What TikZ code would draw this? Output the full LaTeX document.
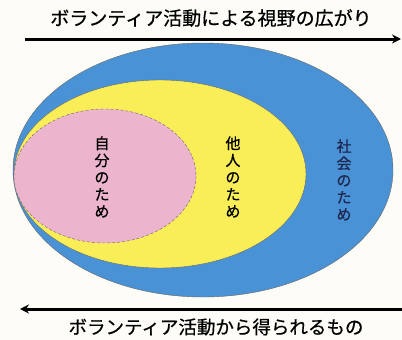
\documentclass[tikz,border=0pt]{standalone}
\usepackage{fontspec}
\newfontfamily\jpfont[FakeBold=0.6]{Noto Sans CJK JP}
\usetikzlibrary{arrows.meta}
\definecolor{bgc}{RGB}{253,252,246}
\definecolor{bluec}{RGB}{74,146,214}
\definecolor{yellowc}{RGB}{250,238,88}
\definecolor{pinkc}{RGB}{236,180,205}
\definecolor{navyc}{RGB}{30,40,80}
\tikzset{
  bigarrow/.style={line width=3pt, -{Stealth[length=9pt,width=9pt]}},
  vtext/.style={font=\jpfont\fontsize{15}{17}\selectfont, align=center, inner sep=0pt},
  htext/.style={font=\jpfont\fontsize{19}{21}\selectfont, inner sep=0pt},
}
\begin{document}
\begin{tikzpicture}[x=1pt,y=-1pt]
\fill[bgc] (0,0) rectangle (402,340);
\useasboundingbox (0,0) rectangle (402,340);
\fill[bluec] (203,170) ellipse [x radius=190, y radius=127];
\draw[black!60, line width=0.4pt] (203,170) ellipse [x radius=190, y radius=127];
\fill[yellowc] (160,174) ellipse [x radius=146, y radius=94];
\draw[black!60, line width=0.4pt] (160,174) ellipse [x radius=146, y radius=94];
\fill[pinkc] (105,176) ellipse [x radius=91, y radius=67];
\draw[black!60, line width=0.4pt, densely dashed] (105,176) ellipse [x radius=91, y radius=67];
\node[vtext] (self) at (102,177) {自\\分\\の\\た\\め};
\node[vtext] (others) at (233,177) {他\\人\\の\\た\\め};
\node[vtext, text=navyc] (society) at (344,180) {社\\会\\の\\た\\め};
\node[htext] (toptext) at (211,18) {ボランティア活動による視野の広がり};
\node[font=\jpfont\fontsize{18.5}{21}\selectfont, inner sep=0pt] (bottext) at (216,327) {ボランティア活動から得られるもの};
\coordinate (ta) at (25,39);
\coordinate (tb) at (401,39);
\coordinate (ba) at (402,309);
\coordinate (bb) at (20,309);
\draw[bigarrow] (ta) -- (tb);
\draw[bigarrow] (ba) -- (bb);
\end{tikzpicture}
\end{document}
